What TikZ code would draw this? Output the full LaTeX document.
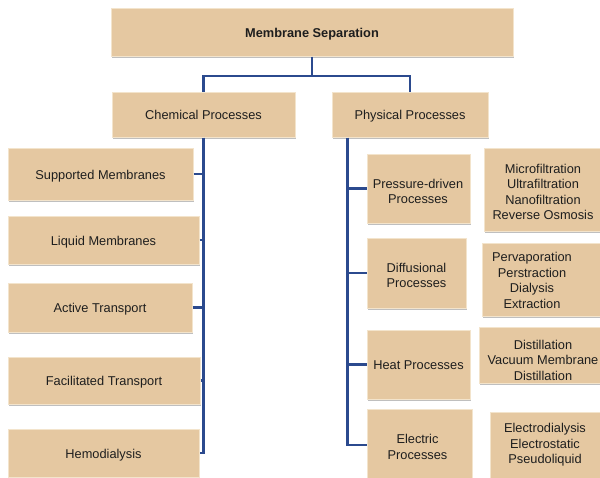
\documentclass[tikz,border=0pt]{standalone}
\usepackage{fontspec}
\setmainfont{Liberation Sans}
\usetikzlibrary{shadows,calc}
\definecolor{boxfill}{HTML}{E5C8A1}
\definecolor{boxedge}{HTML}{F3E4CC}
\definecolor{linkblue}{HTML}{2B4A8E}
\definecolor{inktext}{HTML}{1E1E1E}
\begin{document}
\begin{tikzpicture}[x=1pt,y=-1pt,
  box/.style={fill=boxfill, draw=boxedge, line width=1pt,
    drop shadow={shadow xshift=1pt, shadow yshift=-1.6pt, fill=black!45, opacity=0.55},
    font=\fontsize{12.8}{15.5}\selectfont, text=inktext, align=center, inner sep=0pt},
  oneline/.style={text height=11.2pt, text depth=0.7pt},
  boxtext/.style={font=\fontsize{12.8}{15.5}\selectfont, text=inktext, align=center, inner sep=0pt},
  link/.style={draw=linkblue, line width=2.2pt}]
\useasboundingbox (0,0) rectangle (600,477);
\clip (0,0) rectangle (600,477);
\fill[white] (0,0) rectangle (600,477);

% root and the two main branches
\node[box, oneline, minimum width=402, minimum height=48] (root) at (312,32) {\textbf{Membrane Separation}};
\node[box, oneline, minimum width=183, minimum height=45] (chem) at (203.5,114.5) {Chemical Processes};
\node[box, oneline, minimum width=156, minimum height=45] (phys) at (410,114.5) {Physical Processes};

% chemical processes
\node[box, oneline, minimum width=185, minimum height=52] (supp) at (100.5,174) {Supported Membranes};
\node[box, oneline, minimum width=191, minimum height=48] (liq) at (103.5,240) {Liquid Membranes};
\node[box, oneline, minimum width=184, minimum height=49] (act) at (100,307.5) {Active Transport};
\node[box, oneline, minimum width=192, minimum height=47] (fac) at (104,380.5) {Facilitated Transport};
\node[box, oneline, minimum width=191, minimum height=48] (hemo) at (103.5,453) {Hemodialysis};

% physical processes (two-line captions are set as their own nodes)
\node[box, minimum width=103, minimum height=69] (press) at (418.5,188.5) {};
\node[box, minimum width=99, minimum height=70] (diff) at (416.5,273) {};
\node[box, oneline, minimum width=103, minimum height=69] (heat) at (418.5,364.5) {Heat Processes};
\node[box, minimum width=105, minimum height=72] (elec) at (419.5,445) {};
\node[boxtext] (presst) at (418,191.5) {Pressure-driven\\Processes};
\node[boxtext] (difft) at (416.5,275.5) {Diffusional\\Processes};
\node[boxtext] (elect) at (417.5,447) {Electric\\Processes};

% example lists
\node[box, minimum width=156, minimum height=83] (l1) at (562,189.5) {};
\node[box, minimum width=158, minimum height=73] (l2) at (561,279.5) {};
\node[box, minimum width=161, minimum height=56] (l3) at (559.5,355) {};
\node[box, minimum width=150, minimum height=68] (l4) at (565,446) {};
\node[boxtext] (t1) at (543,192) {Microfiltration\\Ultrafiltration\\Nanofiltration\\Reverse Osmosis};
\node[boxtext] (t2) at (532,280.5) {Pervaporation\\Perstraction\\Dialysis\\Extraction};
\node[boxtext] (t3) at (543,360) {Distillation\\Vacuum Membrane\\Distillation};
\node[boxtext] (t4) at (545,445) {Electrodialysis\\Electrostatic\\Pseudoliquid};

% connectors
\coordinate (bus) at (312,76);
\draw[link] (root.south) -- (bus);
\draw[link] (chem.north) |- (bus) -| (phys.north);

\draw[link] (chem.south) |- (hemo.east);
\foreach \n in {supp,liq,act,fac}
  \draw[link] (\n.east) -- (\n.east -| chem.south);

\coordinate (ptop) at ($(phys.south west)+(16,0)$);
\draw[link] (ptop) |- (elec.west);
\foreach \n in {press,diff,heat}
  \draw[link] (\n.west) -- (\n.west -| ptop);
\end{tikzpicture}
\end{document}
